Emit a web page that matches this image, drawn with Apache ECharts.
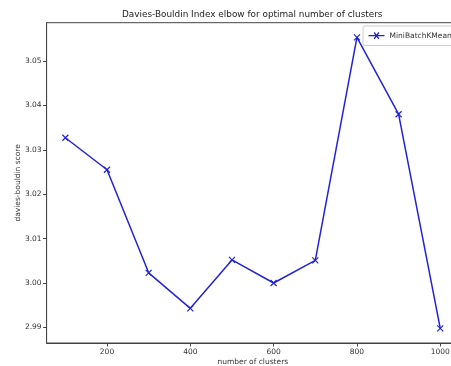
<!DOCTYPE html>
<html><head><meta charset="utf-8">
<script src="https://cdn.jsdelivr.net/npm/echarts@6/dist/echarts.min.js"></script>
<style>html,body{margin:0;padding:0;background:#fff}#c{width:451px;height:366px}</style>
</head><body><div id="c"></div>
<script>
const clusters = [100, 200, 300, 400, 500, 600, 700, 800, 900, 1000];
const scores = [3.0327, 3.0255, 3.0023, 2.9943, 3.0052, 3.0000, 3.0051, 3.0553, 3.0380, 2.9898];
const xTicks = [200, 400, 600, 800, 1000];
const yTicks = [2.99, 3.00, 3.01, 3.02, 3.03, 3.04, 3.05];

const col = '#2323d6';
const txt = '#333';
const chart = echarts.init(document.getElementById('c'));
chart.setOption({
  animation: false,
  backgroundColor: '#fff',
  title: {
    text: 'Davies-Bouldin Index elbow for optimal number of clusters',
    left: 122, top: 10, padding: 0,
    textStyle: {fontFamily: 'DejaVu Sans', fontSize: 8.9, fontWeight: 'normal', color: '#222'}
  },
  legend: {
    left: 363, top: 26, padding: [4, 6, 4, 3], itemGap: 0,
    backgroundColor: '#fff', borderColor: '#ccc', borderWidth: 1, borderRadius: 2,
    itemWidth: 16, itemHeight: 8,
    icon: 'path://M0,5L20,5M7,1L13,9M13,1L7,9',
    itemStyle: {color: 'none', borderColor: col, borderWidth: 1.3},
    textStyle: {fontFamily: 'DejaVu Sans', fontSize: 7.5, color: txt},
    data: ['MiniBatchKMeans']
  },
  grid: {left: 46.6, right: -8, top: 22.7, bottom: 23, outerBoundsMode: 'none', show: true, borderColor: '#444', borderWidth: 1, containLabel: false},
  xAxis: {
    type: 'value', min: 55, max: 1045,
    name: 'number of clusters', nameLocation: 'middle', nameGap: 15, nameMoveOverlap: false,
    nameTextStyle: {fontFamily: 'DejaVu Sans', fontSize: 7.5, color: txt},
    axisLine: {show: true, lineStyle: {color: '#444', width: 1}},
    axisTick: {show: true, length: 3.5, customValues: xTicks, lineStyle: {color: '#444'}},
    axisLabel: {customValues: xTicks, fontFamily: 'DejaVu Sans', fontSize: 7.5, color: txt, margin: 5,
      formatter: v => String(v)},
    splitLine: {show: false}
  },
  yAxis: {
    type: 'value', min: 2.9865, max: 3.0586,
    name: 'davies-bouldin score', nameLocation: 'middle', nameGap: 25, nameRotate: 90, nameMoveOverlap: false,
    nameTextStyle: {fontFamily: 'DejaVu Sans', fontSize: 7.5, color: txt},
    axisLine: {show: true, lineStyle: {color: '#444', width: 1}},
    axisTick: {show: true, length: 3.5, customValues: yTicks, lineStyle: {color: '#444'}},
    axisLabel: {customValues: yTicks, fontFamily: 'DejaVu Sans', fontSize: 7.5, color: txt, margin: 5,
      formatter: v => v.toFixed(2)},
    splitLine: {show: false}
  },
  series: [{
    name: 'MiniBatchKMeans', type: 'line',
    data: clusters.map((c, i) => [c, scores[i]]),
    lineStyle: {color: col, width: 1.5},
    symbol: 'path://M0,0L10,10M10,0L0,10', symbolSize: 6,
    itemStyle: {color: 'none', borderColor: col, borderWidth: 1.2},
    showSymbol: true, clip: false
  }]
});
</script></body></html>
